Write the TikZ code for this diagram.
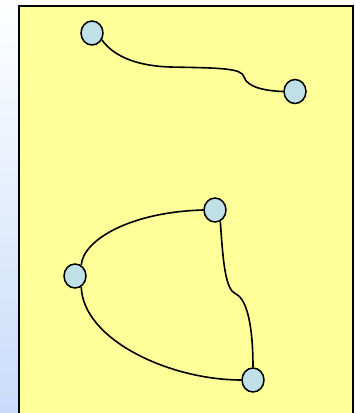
\documentclass[tikz,border=0pt]{standalone}
\usetikzlibrary{shapes.geometric}
\definecolor{padyellow}{RGB}{255,255,153}
\definecolor{nodeblue}{RGB}{190,224,230}
\definecolor{edgeblue}{RGB}{200,220,250}
\tikzset{
  vertex/.style={ellipse, draw=black, line width=1.5pt, fill=nodeblue,
    minimum width=22pt, minimum height=24pt, inner sep=0pt},
  link/.style={draw=black, line width=1.6pt},
}
\begin{document}
\begin{tikzpicture}[x=1pt, y=-1pt]
  % page and backdrop
  \useasboundingbox (0,0) rectangle (355,413);
  \fill[white] (0,0) rectangle (355,413);
  \shade[top color=white, bottom color=edgeblue] (0,0) rectangle (19,413);
  % yellow panel
  \filldraw[fill=padyellow, draw=black, line width=2pt] (18.5,5.5) -- (352.5,5.5) -- (352.5,420) -- (18.5,420) -- cycle;
  % vertices
  \node[vertex] (a) at (92,33) {};
  \node[vertex] (b) at (295,91.5) {};
  \node[vertex] (c) at (215,210) {};
  \node[vertex] (d) at (75,276) {};
  \node[vertex] (e) at (253,380) {};
  % bend points of the curved links
  \coordinate (ab1) at (170,67);
  \coordinate (ab2) at (244,77);
  \coordinate (ce1) at (236,294);
  % links
  \draw[link] (a.-35) .. controls (115,58) and (140,66) .. (ab1)
    .. controls (220,68) and (242,68) .. (ab2)
    .. controls (247,87) and (265,91) .. (b.west);
  \draw[link] (c.west) .. controls (130,212) and (83,240) .. (d.60);
  \draw[link] (d.-60) .. controls (83,340) and (170,380) .. (e.west);
  \draw[link] (c.-65) .. controls (223,260) and (225,290) .. (ce1)
    .. controls (248,300) and (253,330) .. (e.north);
\end{tikzpicture}
\end{document}
